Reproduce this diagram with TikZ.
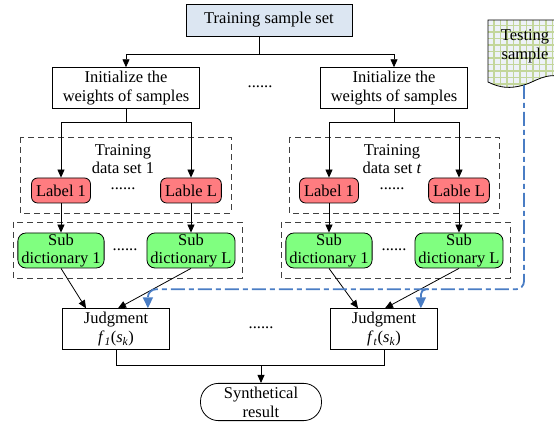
\documentclass[tikz,border=0pt]{standalone}
\usepackage{fontspec}
\setmainfont{Liberation Serif}
\usetikzlibrary{shapes, arrows.meta}
\definecolor{setblue}{HTML}{DCE6F2}
\definecolor{labelred}{HTML}{FF7C80}
\definecolor{dictgreen}{HTML}{80FF80}
\definecolor{testblue}{HTML}{4A7DC4}
\definecolor{gridgreen}{HTML}{C3D69B}
\definecolor{gridback}{HTML}{EEF2F8}
\tikzstyle{sampleset} = [rectangle, minimum width=166pt, minimum height=32pt, text centered, draw=black, fill=setblue]
\tikzstyle{initbox} = [rectangle, minimum width=147pt, minimum height=40pt, align=center, draw=black]
\tikzstyle{labelbox} = [rectangle, rounded corners=6pt, minimum height=25pt, inner xsep=4.5pt, text centered, draw=black, fill=labelred]
\tikzstyle{subdict} = [rectangle, rounded corners=8pt, minimum height=35pt, inner xsep=3.5pt, inner ysep=0pt, align=center, draw=black, fill=dictgreen, font=\fontsize{16.5pt}{18pt}\selectfont]
\tikzstyle{judgebox} = [rectangle, minimum width=107pt, minimum height=40pt, align=center, draw=black]
\tikzstyle{resultbox} = [rectangle, rounded corners=18pt, minimum width=121pt, minimum height=37pt, align=center, draw=black]
\tikzstyle{settext} = [align=center, inner sep=0pt, font=\fontsize{16.5pt}{18.5pt}\selectfont]
\tikzstyle{groupbox} = [draw=black!75, dash pattern=on 6pt off 4pt]
\tikzstyle{dots} = [inner sep=0pt]
\tikzstyle{edge} = [->, >={Triangle[width=7pt,length=8pt]}]
\tikzstyle{testline} = [draw=testblue, line width=1.8pt, dash pattern=on 14pt off 4pt on 5pt off 4pt, rounded corners=8pt, -{Triangle[width=10pt,length=11pt]}]

\begin{document}
\begin{tikzpicture}[x=1pt, y=1pt, node distance=68pt, line width=0.8pt, font=\fontsize{16.5pt}{19pt}\selectfont]
\useasboundingbox (0,0) rectangle (554,422);

\node (0) [sampleset] at (269,402) {Training sample set};
\node (1) [initbox, below of=0, xshift=-143pt] {Initialize the\\weights of samples};
\node (2) [initbox, below of=0, xshift=125pt] {Initialize the\\weights of samples};
\node (d0) [dots, below of=0, xshift=-9pt, yshift=1pt] {......};

% first training set
\node (t1) [settext, below of=1, xshift=-3pt, yshift=-3pt] {Training\\data set 1};
\node (3) [labelbox, below of=1, xshift=-65pt, yshift=-34.5pt] {Label 1};
\node (4) [labelbox, below of=1, xshift=65pt, yshift=-34.5pt] {Lable L};
\node (d1) [dots, below of=1, xshift=-3pt, yshift=-33pt] {......};
\node (7) [subdict, below of=3, yshift=8pt] {Sub\\dictionary 1};
\node (8) [subdict, below of=4, yshift=8pt] {Sub\\dictionary L};
\node (d2) [dots, below of=d1, xshift=2pt, yshift=7pt] {......};
\node (11) [judgebox, below of=7, xshift=55pt, yshift=-10.5pt] {Judgment\\\textit{f}\textsubscript{\textit{1}}(\textit{s}\textsubscript{\textit{k}})};

% t-th training set
\node (t2) [settext, below of=2, xshift=-2pt, yshift=-3pt] {Training\\data set \textit{t}};
\node (5) [labelbox, below of=2, xshift=-65pt, yshift=-34.5pt] {Label 1};
\node (6) [labelbox, below of=2, xshift=65pt, yshift=-34.5pt] {Lable L};
\node (d4) [dots, below of=2, xshift=-2pt, yshift=-33pt] {......};
\node (9) [subdict, below of=5, yshift=8pt] {Sub\\dictionary 1};
\node (10) [subdict, below of=6, yshift=8pt] {Sub\\dictionary L};
\node (d5) [dots, below of=d4, xshift=2pt, yshift=7pt] {......};
\node (12) [judgebox, below of=9, xshift=55pt, yshift=-10.5pt] {Judgment\\\textit{f}\textsubscript{\textit{t}}(\textit{s}\textsubscript{\textit{k}})};

\node (d3) [dots, right of=11, xshift=77pt, yshift=1pt] {......};
\node (13) [resultbox, below of=d3, yshift=-6pt] {Synthetical\\result};

% testing sample
\draw [fill=gridback, path picture={\draw[gridgreen, line width=1.2pt, step=6.5pt] (path picture bounding box.south west) grid (path picture bounding box.north east);}]
  (488,402) -- (565,402) -- (565,345) .. controls (545,350) and (535,340) .. (524,337) .. controls (510,333) and (500,334) .. (488,340) -- cycle;
\coordinate (c14) at (524,337);
\node (14) [align=center] at (525,376) {Testing\\sample};

% groups
\draw [groupbox] (20,285) rectangle (231,209);
\draw [groupbox] (13,200) rectangle (242,144);
\draw [groupbox] (289,285) rectangle (499,209);
\draw [groupbox] (281,200) rectangle (510,144);

\coordinate (c0) at ([xshift=-10pt, yshift=-18pt]0.south);
\draw (0.south -| c0) -- (c0);
\draw [edge] (c0) -| (1);
\draw [edge] (c0) -| (2);
\draw [edge] (1.south) -- ++(0,-14) -| (3);
\draw [edge] (1.south) -- ++(0,-14) -| (4);
\draw [edge] (2.south) -- ++(0,-14) -| (5);
\draw [edge] (2.south) -- ++(0,-14) -| (6);
\draw [edge] (3) -- (7);
\draw [edge] (4) -- (8);
\draw [edge] (5) -- (9);
\draw [edge] (6) -- (10);
\draw [edge] (7.south) -- ([xshift=-30pt]11.north);
\draw [edge] (8.south) -- ([xshift=2pt]11.north);
\draw [edge] (9.south) -- ([xshift=-26pt]12.north);
\draw [edge] (10.south) -- ([xshift=1pt]12.north);
\coordinate (c1) at ([yshift=-16pt]11.south);
\draw (11.south) -- (c1) -| (12.south);
\draw [edge] (c1 -| 13) -- (13);

\draw [testline] (c14) |- ([xshift=-22pt, yshift=19pt]11.north east) -- ([xshift=-22pt]11.north east);
\draw [testline, rounded corners=5pt] ([xshift=-9pt, yshift=19pt]12.north east) -| ([xshift=-17pt]12.north east);

\end{tikzpicture}
\end{document}
